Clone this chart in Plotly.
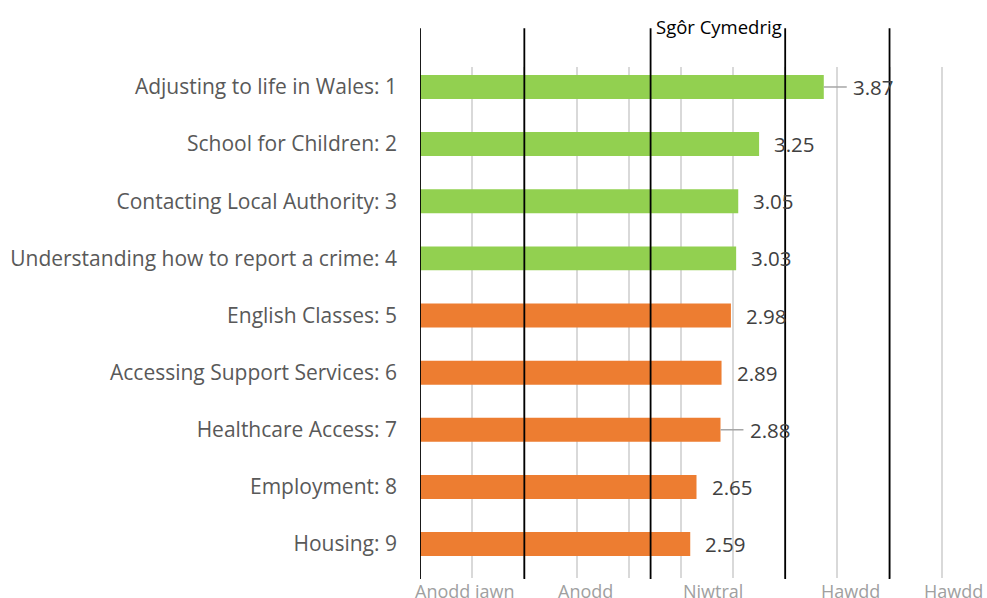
import plotly.graph_objects as go

# Mean ease score for each topic (1 = very hard ... 5 = very easy)
topics = [
    "Adjusting to life in Wales: 1",
    "School for Children: 2",
    "Contacting Local Authority: 3",
    "Understanding how to report a crime: 4",
    "English Classes: 5",
    "Accessing Support Services: 6",
    "Healthcare Access: 7",
    "Employment: 8",
    "Housing: 9",
]
mean_scores = [3.87, 3.25, 3.05, 3.03, 2.98, 2.89, 2.88, 2.65, 2.59]
above_threshold = [True, True, True, True, False, False, False, False, False]

# Rating bands drawn beneath the chart
band_edges = [0.0, 1.0, 2.21, 3.5, 4.5]
band_labels = ["Anodd iawn", "Anodd", "Niwtral", "Hawdd", "Hawdd"]
band_label_x = [0.43, 1.59, 2.81, 4.13, 5.11]
header_text = "Sgôr Cymedrig"

GREEN = "#92d050"
ORANGE = "#ed7d31"
FONT = "Open Sans"

colors = [GREEN if a else ORANGE for a in above_threshold]

fig = go.Figure()
fig.add_trace(go.Bar(
    y=topics,
    x=mean_scores,
    orientation="h",
    marker=dict(color=colors, line=dict(width=0)),
    width=0.42,
    hoverinfo="x+y",
))

# Value labels to the right of each bar; two of them sit further out on a leader line
leader_rows = {0, 6}
for i, (t, v) in enumerate(zip(topics, mean_scores)):
    shift = 27 if i in leader_rows else 13
    fig.add_annotation(
        x=v, y=t, xref="x", yref="y",
        text=f"{v:.2f}", showarrow=False,
        xanchor="left", yanchor="middle", xshift=shift,
        font=dict(family=FONT, size=20.5, color="#404040"),
    )
    if i in leader_rows:
        fig.add_shape(
            type="line", xref="x", yref="y",
            x0=v, x1=v + 0.22, y0=t, y1=t,
            line=dict(color="#a6a6a6", width=1.5),
        )

# Black band boundaries running the full height
for e in band_edges:
    fig.add_shape(
        type="line", xref="x", yref="paper",
        x0=e, x1=e, y0=-0.002, y1=1.076,
        line=dict(color="black", width=1.8),
        layer="above",
    )

for lbl, bx in zip(band_labels, band_label_x):
    fig.add_annotation(
        x=bx, y=0.001, xref="x", yref="paper",
        text=lbl, showarrow=False,
        xanchor="center", yanchor="top",
        font=dict(family=FONT, size=18, color="#a0a0a0"),
    )

fig.add_annotation(
    x=2.864, y=1.08, xref="x", yref="paper",
    text=header_text, showarrow=False,
    xanchor="center", yanchor="middle",
    font=dict(family=FONT, size=18.5, color="black"),
)

fig.update_layout(
    width=987, height=598,
    margin=dict(l=420, r=14, t=67, b=20),
    paper_bgcolor="white", plot_bgcolor="white",
    showlegend=False,
    bargap=0.5,
)
fig.update_xaxes(
    range=[0, 5.3], dtick=0.5, tick0=0,
    showgrid=True, gridcolor="#d9d9d9", gridwidth=1.5,
    showticklabels=False, zeroline=False, showline=False,
    automargin=False,
)
fig.update_yaxes(
    type="category", categoryorder="array", categoryarray=topics,
    range=[8.595, -0.35],
    showgrid=False, zeroline=False, showline=False,
    ticks="", ticklabelstandoff=22, automargin=False,
    tickfont=dict(family=FONT, size=21, color="#595959"),
)

fig.write_html("out.html")
